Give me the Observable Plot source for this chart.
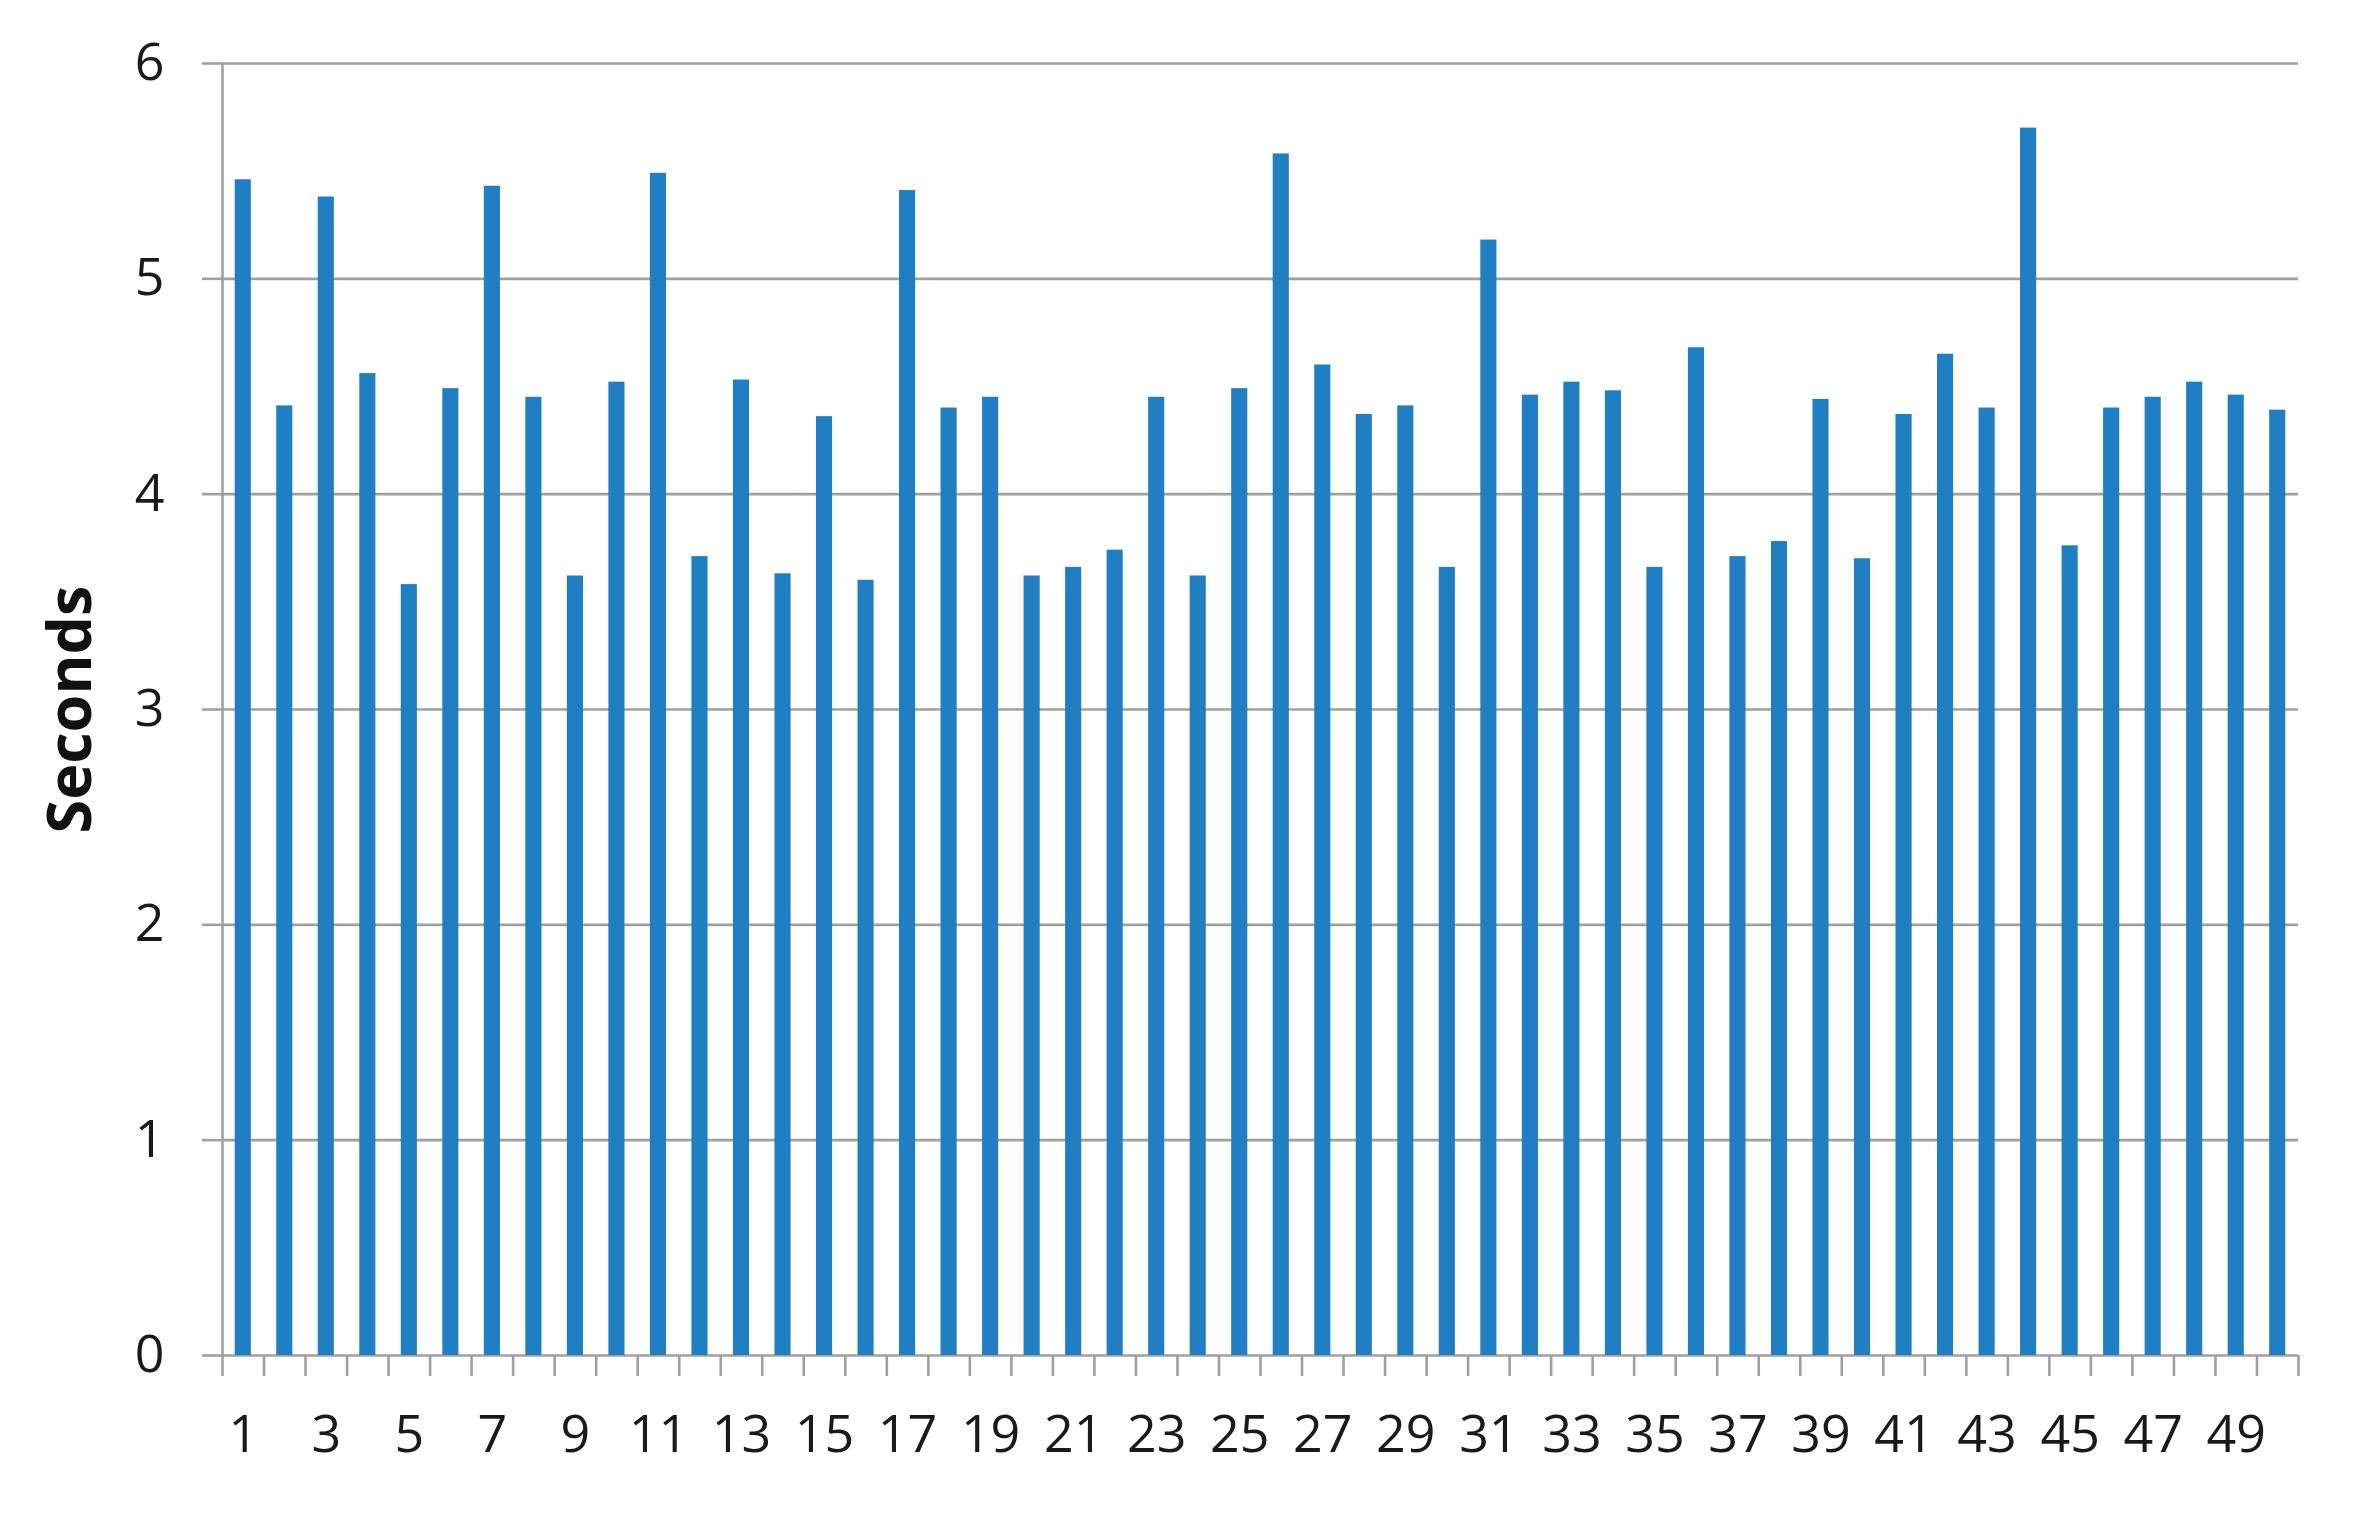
<!DOCTYPE html>
<html>
<head>
<meta charset="utf-8">
<script src="https://cdn.jsdelivr.net/npm/d3@7"></script>
<script src="https://cdn.jsdelivr.net/npm/@observablehq/plot@0.6"></script>
<style>
  html, body { margin: 0; padding: 0; background: #ffffff; }
  #chart svg { display: block; }
</style>
</head>
<body>
<div id="chart"></div>
<script>
// Run numbers (categories)
const runs = d3.range(1, 51);
// Seconds per run
const seconds = [
  5.46, 4.41, 5.38, 4.56, 3.58, 4.49, 5.43, 4.45, 3.62, 4.52,
  5.49, 3.71, 4.53, 3.63, 4.36, 3.60, 5.41, 4.40, 4.45, 3.62,
  3.66, 3.74, 4.45, 3.62, 4.49, 5.58, 4.60, 4.37, 4.41, 3.66,
  5.18, 4.46, 4.52, 4.48, 3.66, 4.68, 3.71, 3.78, 4.44, 3.70,
  4.37, 4.65, 4.40, 5.70, 3.76, 4.40, 4.45, 4.52, 4.46, 4.39
];
// Tick labels
const yTicks = [0, 1, 2, 3, 4, 5, 6];
const xTickLabels = runs.filter(r => r % 2 === 1);
const yLabel = "Seconds";

const data = runs.map((r, i) => ({run: r, sec: seconds[i]}));
const boundaries = [...runs.map(r => r - 0.5), runs[runs.length - 1] + 0.5];

const gray = "#a0a0a0";
const blue = "#1f7fc2";
const font = "'Open Sans', sans-serif";

const chart = Plot.plot({
  width: 2375,
  height: 1517,
  marginLeft: 222,
  marginRight: 77,
  marginTop: 63,
  marginBottom: 162,
  style: {fontFamily: font, color: "#1a1a1a", background: "#ffffff", overflow: "visible"},
  x: {type: "linear", domain: [0.5, 50.5]},
  y: {domain: [0, 6]},
  marks: [
    Plot.gridY(yTicks, {stroke: gray, strokeOpacity: 1, strokeWidth: 2.6}),
    Plot.frame({anchor: "left", stroke: gray, strokeWidth: 2.6}),
    Plot.axisY(yTicks, {tickSize: 20, tickPadding: 38, stroke: gray, strokeWidth: 2.6, fontSize: 52, label: null, tickFormat: d => String(d)}),
    Plot.axisX(boundaries, {tickSize: 21, stroke: gray, strokeWidth: 2.6, tickFormat: () => "", label: null}),
    Plot.axisX(xTickLabels, {tickSize: 0, tickPadding: 60, fontSize: 52, label: null, tickFormat: d => String(d)}),
    Plot.rectY(data, {x1: d => d.run - 0.5, x2: d => d.run + 0.5, y: "sec", insetLeft: 12.7, insetRight: 12.7, fill: blue}),
    Plot.text([yLabel], {text: d => d, frameAnchor: "left", textAnchor: "middle", rotate: -90, dx: -132, lineAnchor: "bottom", fontSize: 61, fontWeight: "bold", fill: "#111"})
  ]
});
document.getElementById("chart").appendChild(chart);
</script>
</body>
</html>
